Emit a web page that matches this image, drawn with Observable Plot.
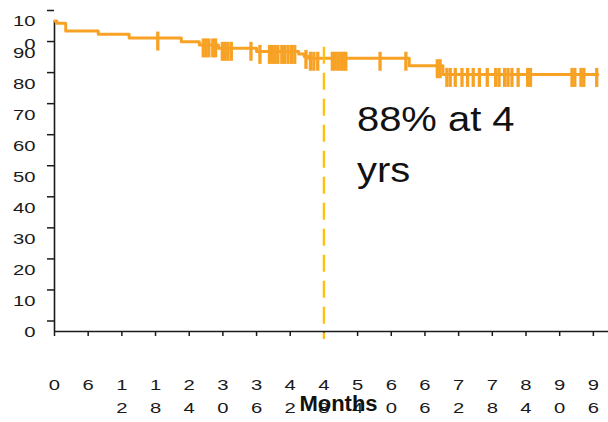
<!DOCTYPE html>
<html>
<head>
<meta charset="utf-8">
<script src="https://cdn.jsdelivr.net/npm/d3@7"></script>
<script src="https://cdn.jsdelivr.net/npm/@observablehq/plot@0.6"></script>
<style>
  html, body { margin: 0; padding: 0; background: #fff; }
  #chart { width: 608px; height: 422px; overflow: hidden; }
</style>
</head>
<body>
<div id="chart"></div>
<script>
// Kaplan–Meier estimate: step points (month, % surviving)
const kmMonths   = [0, 0.4, 2, 7.8, 13.3, 22.6, 25.8, 29.2, 36.0, 43.5, 44.5, 45.3, 63.2, 69.2, 96.8];
const kmSurvival = [100, 99.3, 96.8, 95.7, 94.5, 93.3, 92.3, 91.2, 90.2, 89.4, 88.6, 88.0, 85.6, 82.8, 82.8];

// Censored observations (months)
const censorMonths = [
  18.4, 26.5, 27.0, 27.5, 28.2, 28.7, 29.9, 30.4, 30.9, 31.5, 35.0, 36.6,
  38.3, 38.8, 39.3, 39.8, 40.5, 41.0, 41.6, 42.2, 42.8, 44.8, 45.6, 46.2, 46.9,
  49.5, 50.0, 50.5, 51.0, 51.5, 51.9, 58.0, 62.6, 68.2, 68.7,
  69.9, 70.5, 71.4, 72.6, 73.6, 74.6, 75.7, 77.1, 78.6, 79.2, 80.2, 80.8, 81.5,
  82.6, 84.3, 84.8, 92.2, 92.7, 93.8, 94.3, 96.6
];

// Milestone: survival at 4 years
const milestoneMonth = 48;
const milestoneSurvival = 88;

// Axis ticks
const xTicks = d3.range(0, 97, 6);
const yTicks = d3.range(0, 101, 10);

const km = kmMonths.map((m, i) => ({month: m, survival: kmSurvival[i]}));
const survivalAt = (t) => {
  let s = kmSurvival[0];
  for (let i = 0; i < kmMonths.length; i++) if (kmMonths[i] <= t) s = kmSurvival[i];
  return s;
};
const censored = censorMonths.map((m) => ({month: m, survival: survivalAt(m)}));

const orange = "#f8a225";
const gold = "#ffc012";
const xMax = 98.7;
const noteText = `${milestoneSurvival}% at ${milestoneMonth / 12}\nyrs`;
const axisTitle = "Months";

// Narrow columns make the tick labels wrap one character per line
const wrapDigits = (n) => String(n).split("").join("\n");
const yFormat = (n) => (n >= 100 ? "10\n0" : String(n));

const chart = Plot.plot({
  width: 608,
  height: 422,
  marginLeft: 54,
  marginRight: 0,
  marginTop: 20.5,
  marginBottom: 91,
  x: {domain: [0, xMax]},
  y: {domain: [0, 100]},
  style: {
    fontFamily: "'Liberation Sans', Arial, Helvetica, sans-serif",
    fontSize: "15px",
    color: "#1a1a1a",
    background: "#fff",
    overflow: "visible"
  },
  marks: [
    Plot.axisY({
      ticks: yTicks, tickFormat: yFormat, tickSize: 7, tickPadding: 12,
      lineAnchor: "top", lineHeight: 1.5, dy: -10.5, label: null, strokeWidth: 1.5
    }),
    Plot.axisX({
      ticks: xTicks, tickFormat: wrapDigits, tickSize: 5, tickPadding: 37,
      lineAnchor: "top", lineHeight: 1.55, label: null, strokeWidth: 1.5
    }),
    Plot.ruleX([0], {y1: 0, y2: 100, stroke: "#1a1a1a", strokeWidth: 1.6}),
    Plot.ruleY([0], {x1: 0, x2: xMax, stroke: "#1a1a1a", strokeWidth: 1.6}),
    Plot.line(km, {x: "month", y: "survival", curve: "step-after", stroke: orange, strokeWidth: 3}),
    Plot.ruleX(censored, {
      x: "month", y1: "survival", y2: "survival",
      insetTop: -6, insetBottom: -13, stroke: orange, strokeWidth: 3.3
    }),
    Plot.ruleX([milestoneMonth], {
      y1: milestoneSurvival, y2: 0, insetTop: -11, insetBottom: -8,
      stroke: gold, strokeWidth: 2.4, strokeDasharray: "17,9"
    }),
    Plot.text([noteText], {
      x: milestoneMonth, y: milestoneSurvival, text: (d) => d,
      dx: 33, dy: 36.4, textAnchor: "start", lineAnchor: "top", lineHeight: 1.42,
      fontSize: 36, fill: "#111"
    }),
    Plot.text([axisTitle], {
      frameAnchor: "bottom", text: (d) => d, dx: 7, dy: 79, lineAnchor: "bottom",
      fontSize: 22, fontWeight: "bold", fill: "#111"
    })
  ]
});

// The labels are set in a wide face: stretch each one horizontally about its anchor
function stretch(t, k) {
  const tr = t.getAttribute("transform");
  if (tr) {
    t.setAttribute("transform", `${tr} scale(${k},1)`);
  } else {
    const x = parseFloat(t.getAttribute("x")) || 0, y = parseFloat(t.getAttribute("y")) || 0;
    t.setAttribute("transform", `translate(${x},${y}) scale(${k},1) translate(${-x},${-y})`);
  }
}
chart.querySelectorAll("text").forEach((t) => {
  const s = t.textContent;
  if (s.includes("%")) stretch(t, 1.11);
  else if (s === axisTitle) return;
  else stretch(t, 1.35);
});

document.getElementById("chart").appendChild(chart);
</script>
</body>
</html>
